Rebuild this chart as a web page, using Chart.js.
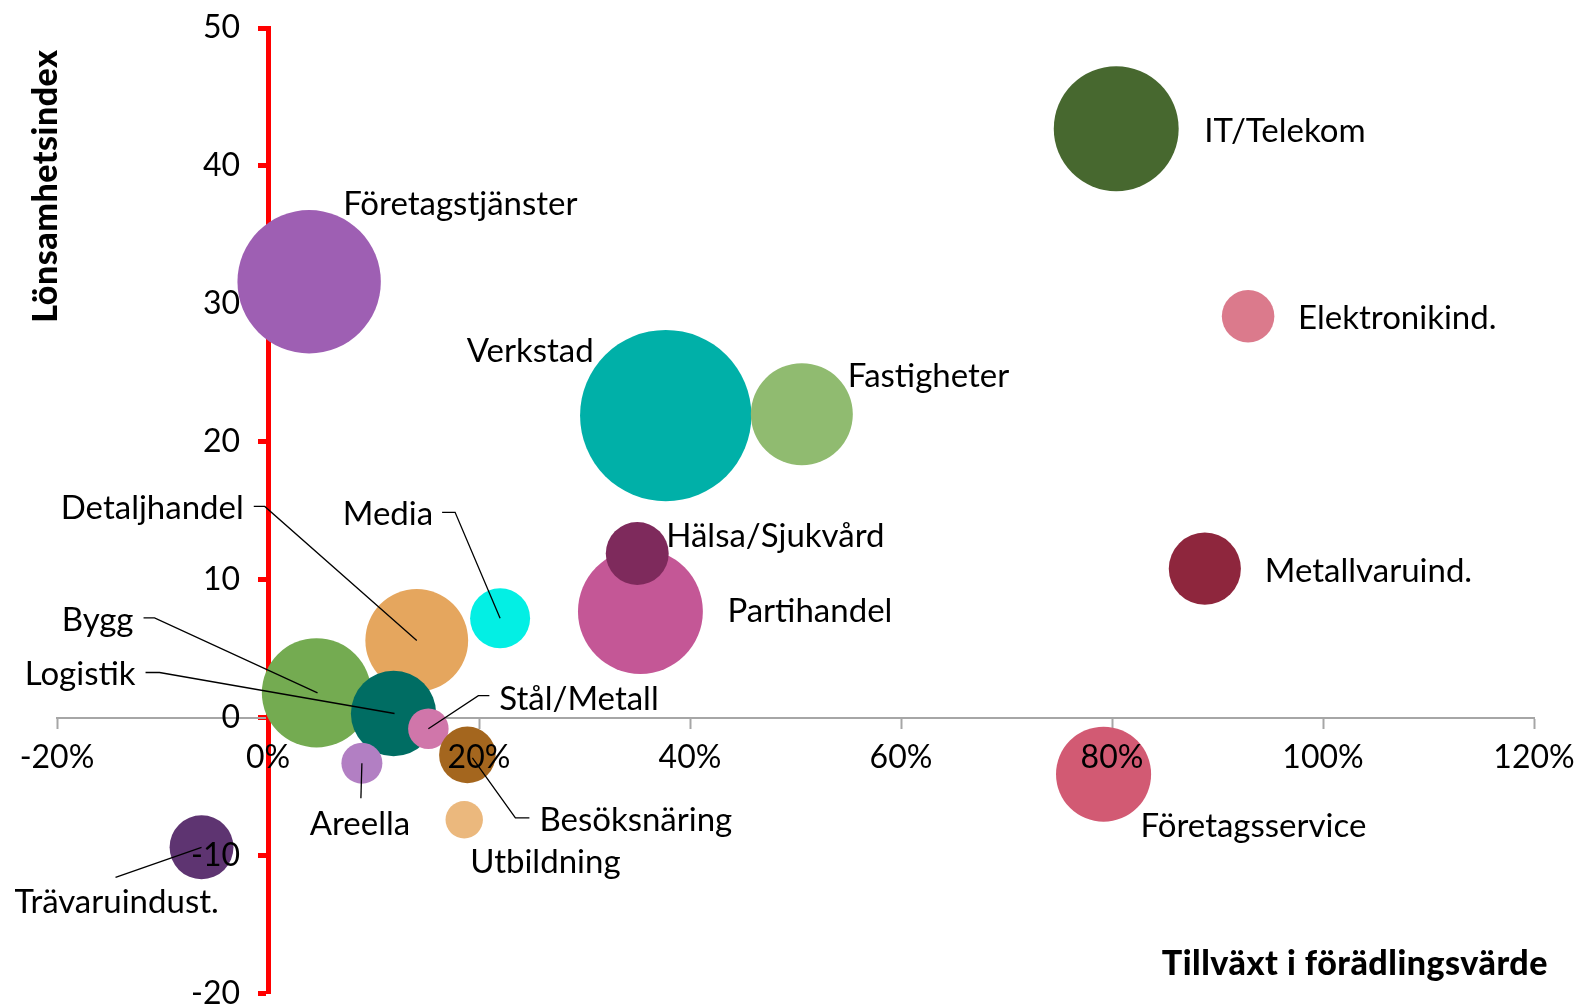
<!DOCTYPE html>
<html>
<head>
<meta charset="utf-8">
<script src="https://cdn.jsdelivr.net/npm/chart.js@4"></script>
<style>
  html, body { margin: 0; padding: 0; background: #fff; }
</style>
</head>
<body>
<canvas id="chart-1" width="1579" height="1004"></canvas>
<script>
// branscher, ritordning (senare ritas ovanpå)
const branscher = ['IT/Telekom', 'Elektronikind.', 'Företagstjänster', 'Verkstad', 'Fastigheter',
  'Partihandel', 'Hälsa/Sjukvård', 'Metallvaruind.', 'Företagsservice', 'Media', 'Detaljhandel',
  'Bygg', 'Logistik', 'Stål/Metall', 'Areella', 'Besöksnäring', 'Utbildning', 'Trävaruindust.'];
// tillväxt i förädlingsvärde (%)
const tillvaxt = [80.4, 92.9, 3.9, 37.7, 50.6, 35.3, 35.0, 88.8, 79.2, 22.0, 14.1, 4.6, 11.9, 15.2, 8.9, 18.9, 18.6, -6.3];
// lönsamhetsindex
const lonsamhet = [42.7, 29.1, 31.6, 21.9, 22.0, 7.7, 11.9, 10.8, -4.1, 7.2, 5.6, 1.8, 0.3, -0.8, -3.3, -2.7, -7.4, -9.4];
// bubbelstorlek
const storlek = [39, 6.9, 51.4, 73.4, 26, 39, 9.9, 13, 22.6, 9, 26.4, 29.9, 18.2, 4.1, 4.2, 8, 3.5, 10.2];

const xTicks = [-20, 0, 20, 40, 60, 80, 100, 120];
const yTicks = [-20, -10, 0, 10, 20, 30, 40, 50];

const farger = ['#47682f', '#db7a8c', '#9e5fb3', '#00b0a8', '#90bb70', '#c45796', '#7e2a5c', '#8e263d',
  '#d25a73', '#03efe4', '#e5a65e', '#74ab51', '#006d63', '#d076aa', '#b27fc3', '#a4661e', '#ebb87d', '#5e3471'];

// etikettplacering relativt bubblans mitt (px)
const etiketter = [
  { dx: 88, dy: 1, align: 'left' },
  { dx: 50, dy: 1, align: 'left' },
  { dx: 34, dy: -79, align: 'left' },
  { dx: -72, dy: -65, align: 'right' },
  { dx: 46, dy: -39, align: 'left' },
  { dx: 87, dy: -1, align: 'left' },
  { dx: 29, dy: -18, align: 'left' },
  { dx: 60, dy: 1, align: 'left' },
  { dx: 37, dy: 51, align: 'left' },
  { dx: -67, dy: -105, align: 'right', linje: [[-58, -106], [-45, -106], [0, 0]] },
  { dx: -173, dy: -133, align: 'right', linje: [[-163, -134], [-152, -134], [0, 0]] },
  { dx: -183, dy: -74, align: 'right', linje: [[-173, -75], [-162, -75], [1, 0]] },
  { dx: -258, dy: -40, align: 'right', linje: [[-248, -41], [-234, -41], [1, 0]] },
  { dx: 71, dy: -31, align: 'left', linje: [[61, -33], [50, -33], [0, 0]] },
  { dx: -2, dy: 60, align: 'center', linje: [[-1, 35], [0, 0]] },
  { dx: 72, dy: 64, align: 'left', linje: [[62, 63], [48, 63], [5, 3]] },
  { dx: 6, dy: 41, align: 'left' },
  { dx: -187, dy: 54, align: 'left', linje: [[-86, 30], [0, 0]] }
];

const FONT = 'Lato, "Noto Sans", sans-serif';
const LABEL_SIZE = 33;

const etikettPlugin = {
  id: 'etiketter',
  afterDatasetsDraw(chart) {
    const ctx = chart.ctx;
    const meta = chart.getDatasetMeta(0);
    ctx.save();
    ctx.strokeStyle = '#000';
    ctx.lineWidth = 1.3;
    ctx.fillStyle = '#000';
    ctx.font = LABEL_SIZE + 'px ' + FONT;
    ctx.textBaseline = 'alphabetic';
    const capH = LABEL_SIZE * 0.72;
    meta.data.forEach((pt, i) => {
      const e = etiketter[i];
      if (e.linje) {
        ctx.beginPath();
        e.linje.forEach(([dx, dy], j) => {
          if (j === 0) ctx.moveTo(pt.x + dx, pt.y + dy);
          else ctx.lineTo(pt.x + dx, pt.y + dy);
        });
        ctx.stroke();
      }
      ctx.textAlign = e.align;
      ctx.fillText(branscher[i], pt.x + e.dx, pt.y + e.dy + capH / 2);
    });

    // axeltitlar
    ctx.font = '900 34px ' + FONT;
    ctx.letterSpacing = '0.5px';
    ctx.textAlign = 'right';
    ctx.fillText('Tillväxt i förädlingsvärde', 1548, 975);
    ctx.translate(57, 186);
    ctx.rotate(-Math.PI / 2);
    ctx.textAlign = 'center';
    ctx.fillText('Lönsamhetsindex', 0, 0);
    ctx.restore();
  }
};

const zeroFit = (s) => {
  if (s.isHorizontal()) s.height = 0; else s.width = 0;
  s.paddingLeft = 0; s.paddingRight = 0; s.paddingTop = 0; s.paddingBottom = 0;
};

const ctx = document.getElementById('chart-1').getContext('2d');
const chart_1 = new Chart(ctx, {
  type: 'bubble',
  data: {
    datasets: [{
      label: 'Branscher',
      data: branscher.map((b, i) => ({ x: tillvaxt[i], y: lonsamhet[i], r: Math.sqrt(storlek[i]) * 10 })),
      backgroundColor: farger,
      borderWidth: 0
    }]
  },
  plugins: [etikettPlugin],
  options: {
    responsive: false,
    animation: false,
    events: [],
    layout: { autoPadding: false, padding: { left: 57, right: 45, top: 28, bottom: 10.5 } },
    plugins: { legend: { display: false }, tooltip: { enabled: false } },
    scales: {
      x: {
        type: 'linear',
        min: -20, max: 120,
        position: { y: 0 },
        afterFit: zeroFit,
        afterBuildTicks: (s) => { s.ticks = xTicks.map(v => ({ value: v })); },
        grid: { drawOnChartArea: false, drawTicks: true, tickLength: 10, tickWidth: 2, tickColor: '#a6a6a6' },
        border: { color: '#a6a6a6', width: 2 },
        ticks: { z: 1, padding: 11, color: '#000', font: { family: FONT, size: 32 }, callback: v => v + '%', maxRotation: 0, autoSkip: false }
      },
      y: {
        type: 'linear',
        min: -20, max: 50,
        position: { x: 0 },
        afterFit: zeroFit,
        afterBuildTicks: (s) => { s.ticks = yTicks.map(v => ({ value: v })); },
        grid: { drawOnChartArea: false, drawTicks: true, tickLength: 8, tickWidth: 5, tickColor: '#ff0000' },
        border: { color: '#ff0000', width: 5 },
        // em-mellanslag ger avstånd till den centrerade axeln
        ticks: { z: 1, color: '#000', font: { family: FONT, size: 32 }, autoSkip: false, callback: v => v + '\u2003\u2009' }
      }
    }
  }
});
</script>
</body>
</html>
